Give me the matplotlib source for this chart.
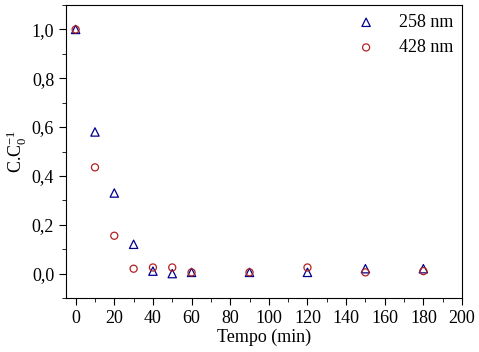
import matplotlib
matplotlib.use("Agg")
import matplotlib.pyplot as plt
from matplotlib.ticker import MultipleLocator, FuncFormatter

plt.rcParams['font.family'] = ['Liberation Serif', 'DejaVu Serif']
plt.rcParams['mathtext.fontset'] = 'custom'
plt.rcParams['mathtext.rm'] = 'Liberation Serif'
plt.rcParams['mathtext.it'] = 'Liberation Serif'

time = [0, 10, 20, 30, 40, 50, 60, 90, 120, 150, 180]
c258 = [1.0, 0.58, 0.33, 0.12, 0.01, 0.0, 0.005, 0.005, 0.005, 0.02, 0.02]
c428 = [1.0, 0.435, 0.155, 0.02, 0.025, 0.025, 0.005, 0.005, 0.025, 0.005, 0.01]

fig = plt.figure(figsize=(4.79, 3.52), dpi=100)
ax = fig.add_axes([66/479, 1 - 298/352, (462-66)/479, (298-5)/352])

ax.scatter(time, c258, marker='^', facecolors='none', edgecolors='#00008B', s=36, linewidths=0.9, label='258 nm', zorder=3)
ax.scatter(time, c428, marker='o', facecolors='none', edgecolors='#B22222', s=26, linewidths=0.9, label='428 nm', zorder=3)

ax.set_xlim(-5, 200)
ax.set_ylim(-0.1, 1.1)
ax.xaxis.set_major_locator(MultipleLocator(20))
ax.xaxis.set_minor_locator(MultipleLocator(10))
ax.yaxis.set_major_locator(MultipleLocator(0.2))
ax.yaxis.set_minor_locator(MultipleLocator(0.1))
ax.yaxis.set_major_formatter(FuncFormatter(lambda v, p: f"{v:.1f}".replace('.', ',').replace('-0,0', '0,0')))
ax.tick_params(which='both', direction='out', top=False, right=False, labelsize=13)
ax.tick_params(which='major', length=5)
ax.tick_params(which='minor', length=3)

ax.set_xlabel('Tempo (min)', fontsize=13, labelpad=1)
ax.set_ylabel(r'C.C$_0^{-1}$', fontsize=13, labelpad=2)

ax.legend(loc='upper right', frameon=False, fontsize=13, handletextpad=1.2, borderaxespad=0.1, labelspacing=0.45, handlelength=1.2)

fig.savefig('out.png', dpi=100)
